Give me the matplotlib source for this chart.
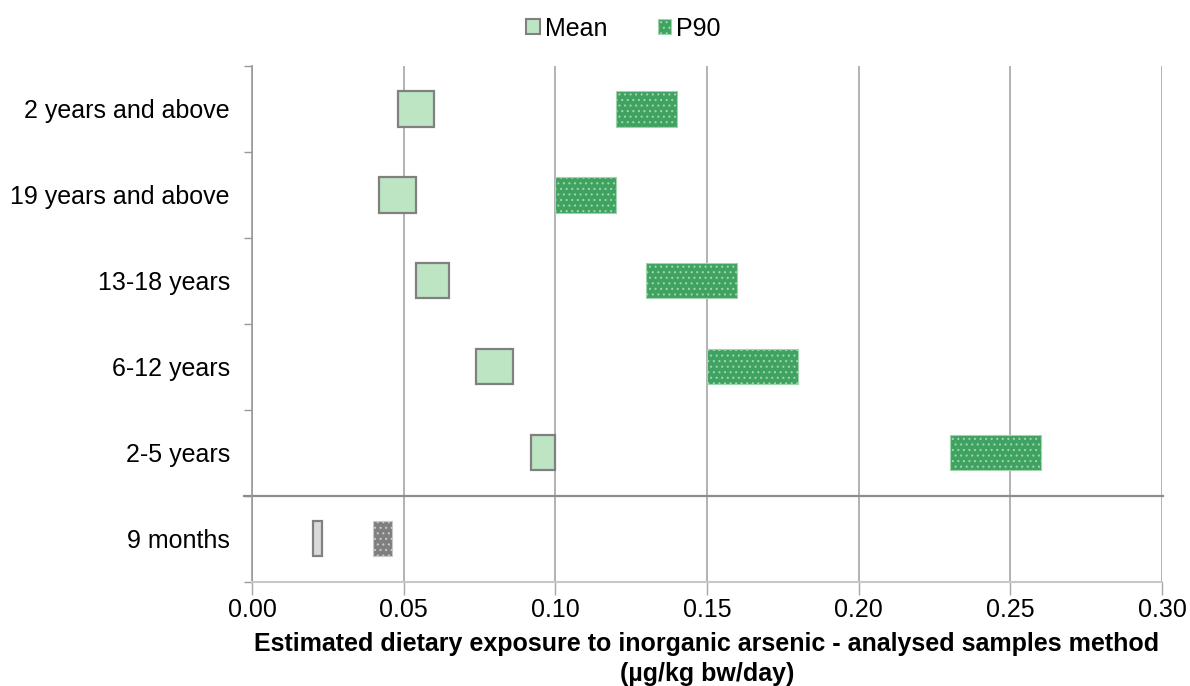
import matplotlib
matplotlib.use("Agg")
import matplotlib.pyplot as plt
from matplotlib.patches import Patch
import numpy as np

plt.rcParams['font.family'] = ['Liberation Sans', 'DejaVu Sans']
plt.rcParams['hatch.linewidth'] = 0.8

categories = ["2 years and above", "19 years and above", "13-18 years",
              "6-12 years", "2-5 years", "9 months"]
mean_low = [0.048, 0.042, 0.054, 0.074, 0.092, 0.020]
mean_high = [0.060, 0.054, 0.065, 0.086, 0.100, 0.023]
p90_low = [0.120, 0.100, 0.130, 0.150, 0.230, 0.040]
p90_high = [0.140, 0.120, 0.160, 0.180, 0.260, 0.046]
x_ticks = [0.00, 0.05, 0.10, 0.15, 0.20, 0.25, 0.30]
series_names = ["Mean", "P90"]

mean_fill = ["#bde5c3"] * 5 + ["#d9d9d9"]
p90_fill = ["#3fa260"] * 5 + ["#7f7f7f"]
p90_edge = ["#9fd4ac"] * 5 + ["#c8c8c8"]

FS = 18

fig = plt.figure(figsize=(11.9, 6.86), dpi=100)
ax = fig.add_axes([252/1190, 1 - 581.7/686, (1162-252)/1190, (581.7-66)/686])

n = len(categories)
y = np.arange(n)
h = 0.41
for i in range(n):
    ax.barh(y[i], mean_high[i] - mean_low[i], left=mean_low[i], height=h,
            color=mean_fill[i], edgecolor="#808080", linewidth=1.6, zorder=3)
    ax.barh(y[i], p90_high[i] - p90_low[i], left=p90_low[i], height=h,
            color=p90_fill[i], edgecolor=p90_edge[i], linewidth=0.8,
            hatch="...", zorder=3)

ax.set_xlim(0, 0.30)
ax.set_ylim(n - 0.5, -0.5)
ax.set_xticks(x_ticks)
ax.set_xticklabels([f"{v:.2f}" for v in x_ticks], fontsize=FS)
ax.set_yticks(y)
ax.set_yticklabels(categories, fontsize=FS)
ax.set_yticks(np.arange(n + 1) - 0.5, minor=True)
ax.tick_params(axis='y', which='major', length=0, pad=16)
ax.tick_params(axis='y', which='minor', length=6, color="#999999", width=1)
ax.tick_params(axis='x', which='major', length=9, color="#a6a6a6", width=1, pad=3)

ax.xaxis.grid(True, color="#a6a6a6", linewidth=1.2, zorder=0)
ax.set_axisbelow(True)
for s in ["top", "right"]:
    ax.spines[s].set_visible(False)
ax.spines["left"].set_color("#999999")
ax.spines["left"].set_linewidth(1.2)
ax.spines["bottom"].set_color("#c8c8c8")
ax.spines["bottom"].set_linewidth(1.5)
ax.axhline(n - 1.5, color="#8c8c8c", linewidth=1.6, zorder=2, clip_on=False,
           xmin=-0.009, xmax=1.001)

ax.set_xlabel("Estimated dietary exposure to inorganic arsenic - analysed samples method\n(µg/kg bw/day)",
              fontsize=FS, fontweight="bold", labelpad=7, linespacing=1.3)

handles = [Patch(facecolor="#bde5c3", edgecolor="#808080", linewidth=1.5),
           Patch(facecolor="#3fa260", edgecolor="#9fd4ac", linewidth=0.8, hatch="...")]
fig.legend(handles, series_names, loc="center", bbox_to_anchor=(0.524, 0.958),
           ncol=2, frameon=False, fontsize=FS, handlelength=0.55, handleheight=0.55,
           handletextpad=0.2, columnspacing=2.0)

fig.savefig("out.png", dpi=100)
